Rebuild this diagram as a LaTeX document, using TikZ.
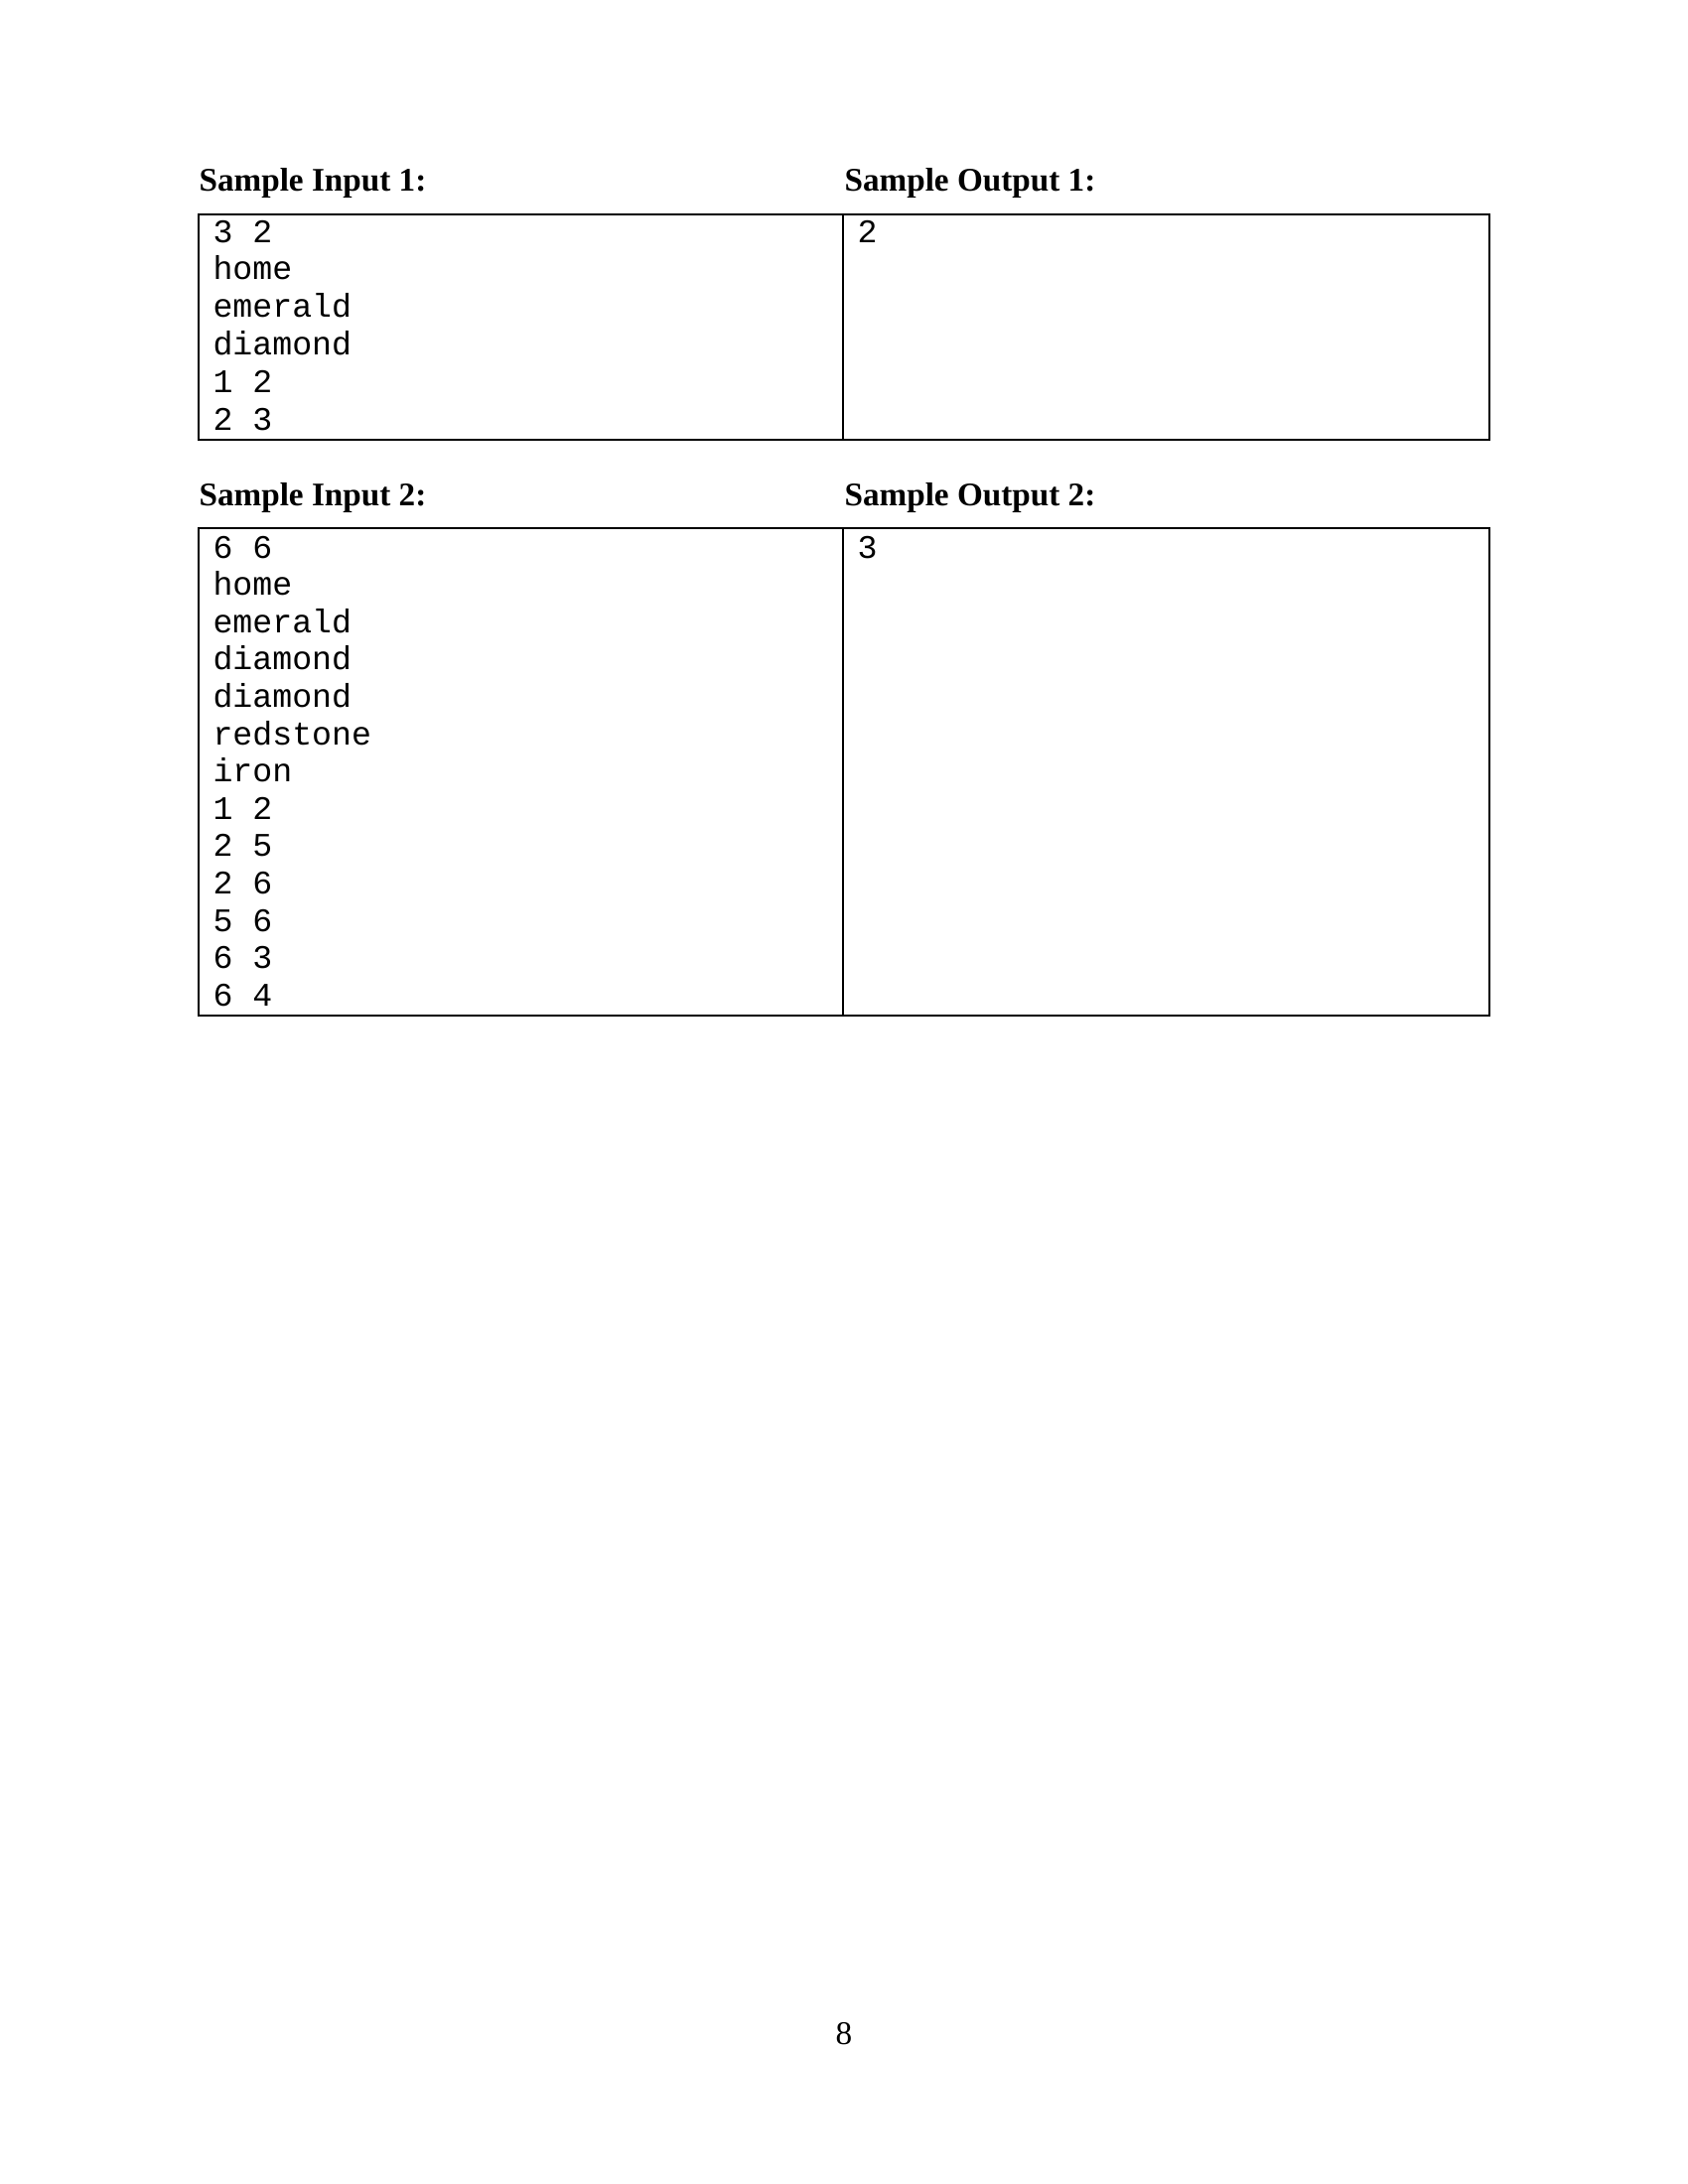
\documentclass[tikz,border=0pt]{standalone}
\usepackage{fontspec}
\setmainfont{Liberation Serif}
\setmonofont{Liberation Mono}

\begin{document}
\begin{tikzpicture}[x=0.127mm,y=-0.127mm]

        \tikzset{head/.style={anchor=base west,inner sep=0pt,font=\fontsize{12}{14}\selectfont\bfseries},
                 code/.style={anchor=base west,inner sep=0pt,font=\fontsize{12}{14}\selectfont\ttfamily},
                 cell/.style={draw,line width=0.6pt}}

        \useasboundingbox (0,0) rectangle (1700,2200);

        % headings
        \node[head] (h1) at (200,192) {Sample Input 1:};
        \node[head] (h2) at (850,192) {Sample Output 1:};
        \node[head] (h3) at (200,509) {Sample Input 2:};
        \node[head] (h4) at (850,509) {Sample Output 2:};

        % boxes
        \draw[cell] (200,216) rectangle (1500,443);
        \draw[cell] (849,216) -- (849,443);
        \draw[cell] (200,532) rectangle (1500,1023);
        \draw[cell] (849,532) -- (849,1023);

        % sample 1
        \foreach \t [count=\i from 0] in {3 2,home,emerald,diamond,1 2,2 3}
          \node[code] (a\i) at (214,244+37.8*\i) {\t};
        \node[code] (b0) at (863,244) {2};

        % sample 2
        \foreach \t [count=\i from 0] in {6 6,home,emerald,diamond,diamond,redstone,iron,1 2,2 5,2 6,5 6,6 3,6 4}
          \node[code] (c\i) at (214,562+37.6*\i) {\t};
        \node[code] (d0) at (863,562) {3};

        \node[anchor=base,inner sep=0pt,font=\fontsize{12}{14}\selectfont] (pg) at (850,2059) {8};

      \end{tikzpicture}
\end{document}
